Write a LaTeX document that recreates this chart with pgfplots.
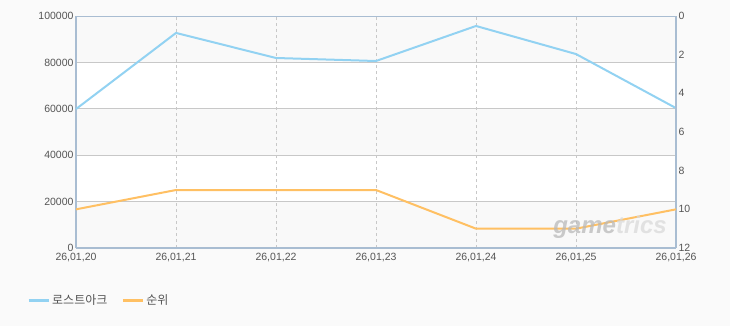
\documentclass[border=0pt]{standalone}
\usepackage{pgfplots}
\pgfplotsset{compat=1.18}
\usepackage{fontspec}
\setmainfont{Liberation Sans}
\newfontfamily\kr{Noto Sans CJK KR}
\definecolor{bg}{HTML}{FAFAFA}
\definecolor{band}{HTML}{F9F9F9}
\definecolor{frame}{HTML}{A9BDD2}
\definecolor{gridc}{HTML}{C8C8C8}
\definecolor{blueline}{HTML}{92D2F2}
\definecolor{orangeline}{HTML}{FFC063}
\definecolor{txt}{HTML}{555555}
\begin{document}
\begin{tikzpicture}[x=1pt,y=1pt]
\begin{axis}[
  set layers,
  at={(76pt,77pt)}, anchor=south west,
  width=600pt, height=232pt, scale only axis,
  xmin=0, xmax=6, ymin=0, ymax=100000,
  xtick={0,...,6},
  xticklabels={{26,01,20},{26,01,21},{26,01,22},{26,01,23},{26,01,24},{26,01,25},{26,01,26}},
  ytick={0,20000,40000,60000,80000,100000},
  yticklabels={0,20000,40000,60000,80000,100000},
  scaled y ticks=false,
  yticklabel style={font=\fontsize{10.5}{12}\selectfont, text=txt, xshift=1pt},
  xticklabel style={font=\fontsize{10.5}{12}\selectfont, text=txt, yshift=-2pt},
  major tick length=0pt,
  axis y line*=left, axis x line*=bottom,
  axis line style={draw=frame, line width=2pt, -},
  ymajorgrids, xmajorgrids,
  y grid style={gridc, line width=0.8pt},
  x grid style={gridc, dashed, line width=0.6pt},
  clip=false,
  legend columns=2,
  legend style={at={(-52pt,-52pt)}, anchor=west, draw=none, fill=none,
    font=\kr\fontsize{12}{14}\selectfont, text=txt,
    /tikz/every even column/.append style={column sep=12pt}},
  legend image code/.code={\draw[#1, line width=3pt] (0pt,0pt) -- (20pt,0pt);},
]
\begin{pgfonlayer}{axis background}
\fill[bg] (rel axis cs:-0.3,-0.5) rectangle (rel axis cs:1.3,1.3);
\fill[white] (axis cs:0,0) rectangle (axis cs:6,100000);
\fill[band] (axis cs:0,0) rectangle (axis cs:6,20000);
\fill[band] (axis cs:0,40000) rectangle (axis cs:6,60000);
\fill[band] (axis cs:0,80000) rectangle (axis cs:6,100000);
\end{pgfonlayer}
\addplot[blueline, line width=2pt] coordinates {
  (0,59900) (1,92700) (2,81900) (3,80600) (4,95700) (5,83600) (6,60300)};
\addlegendentry{로스트아크}
\addlegendimage{orangeline, line width=2pt}
\addlegendentry{순위}
\end{axis}
\begin{axis}[
  at={(76pt,77pt)}, anchor=south west,
  width=600pt, height=232pt, scale only axis,
  xmin=0, xmax=6, ymin=0, ymax=12, y dir=reverse,
  ytick={0,2,4,6,8,10,12},
  yticklabels={0,2,4,6,8,10,12},
  axis y line*=right, hide x axis,
  major tick length=0pt,
  axis line style={draw=frame, line width=1.8pt, -},
  yticklabel style={font=\fontsize{10.5}{12}\selectfont, text=txt, xshift=-1pt},
]
\draw[frame, line width=1.8pt] (axis cs:0,0) -- (axis cs:6,0);
\addplot[orangeline, line width=2pt] coordinates {
  (0,10) (1,9) (2,9) (3,9) (4,11) (5,11) (6,10)};
\end{axis}
\node[font=\bfseries\itshape\fontsize{24}{26}\selectfont, text=gray!55, opacity=0.75, inner sep=0pt] at (610,98) {game\textcolor{gray!30}{trics}};
\pgfresetboundingbox
\useasboundingbox (0,0) rectangle (730,325);
\end{tikzpicture}
\end{document}
